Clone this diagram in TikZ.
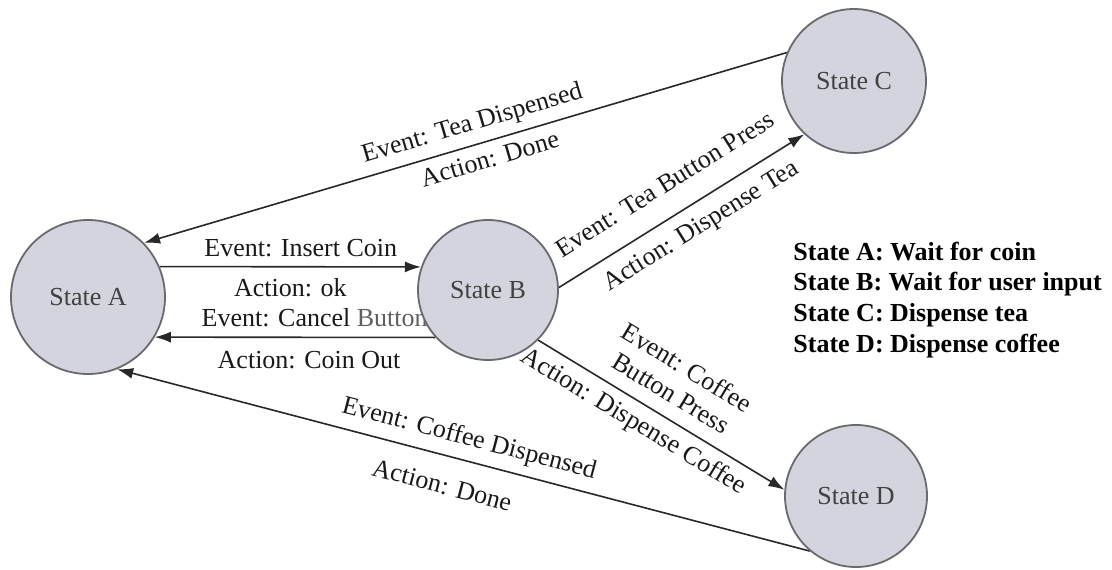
\documentclass[tikz,border=0pt]{standalone}
\usepackage{fontspec}
\setmainfont{Liberation Serif}
\usetikzlibrary{arrows.meta,backgrounds}
\definecolor{statefill}{RGB}{212,212,222}
\definecolor{stateline}{RGB}{105,105,112}
\definecolor{edgecol}{RGB}{40,40,40}
\definecolor{labcol}{RGB}{25,25,25}
\definecolor{nodetext}{RGB}{65,65,65}
\definecolor{fadedtext}{RGB}{95,95,95}
\begin{document}
\begin{tikzpicture}[x=0.5pt,y=-0.5pt,
  state/.style={circle, draw=stateline, fill=statefill, line width=0.9pt, inner sep=0pt,
    font=\fontsize{13}{15}\selectfont, text=nodetext},
  trans/.style={draw=edgecol, line width=0.8pt, -{Latex[length=8pt,width=5.5pt]}},
  lab/.style={font=\fontsize{13}{15}\selectfont, text=labcol, inner sep=1pt},
  legendtext/.style={font=\fontsize{13}{15.4}\selectfont\bfseries, align=left, inner sep=0pt, anchor=west}]
\useasboundingbox (0,0) rectangle (1112,569);
\node[state, minimum size=77pt] (A) at (88,297) {State A};
\node[state, minimum size=70pt] (B) at (488,290) {State B};
\node[state, minimum size=72pt] (C) at (854,81) {State C};
\node[state, minimum size=71pt] (D) at (856,496) {State D};
\node[legendtext] (legend) at (793,300) {State A: Wait for coin\\State B: Wait for user input\\State C: Dispense tea\\State D: Dispense coffee};
\begin{scope}[on background layer]
\draw[trans] (C.157) -- node[lab, sloped, pos=0.48, above=3pt] {Event: Tea Dispensed}
  node[lab, sloped, pos=0.47, below=3pt] {Action: Done} (A.44);
\draw[trans] (A.23) -- node[lab, pos=0.54, above=3.5pt] {Event: Insert Coin}
  node[lab, pos=0.5, below=4.5pt] {Action: ok} (B.161);
\draw[trans] (B.222) -- node[lab, pos=0.43, above=4pt] {Event: Cancel \textcolor{fadedtext}{Button}}
  node[lab, pos=0.45, below=5.5pt] {Action: Coin Out} (A.-31);
\draw[trans] (B.2) -- node[lab, sloped, pos=0.5, above=10pt] {Event: Tea Button Press}
  node[lab, sloped, pos=0.53, below=5pt] {Action: Dispense Tea} (C.227);
\draw[trans] (B.-45) -- node[lab, sloped, pos=0.49, above=6pt, align=center] {Event: Coffee\\Button Press}
  node[lab, sloped, pos=0.43, below=3pt] {Action: Dispense Coffee} (D.175);
\draw[trans] (D.230) -- node[lab, sloped, pos=0.5, above=3.5pt] {Event: Coffee Dispensed}
  node[lab, sloped, pos=0.52, below=9pt] {Action: Done} (A.-68);
\end{scope}
\end{tikzpicture}
\end{document}
